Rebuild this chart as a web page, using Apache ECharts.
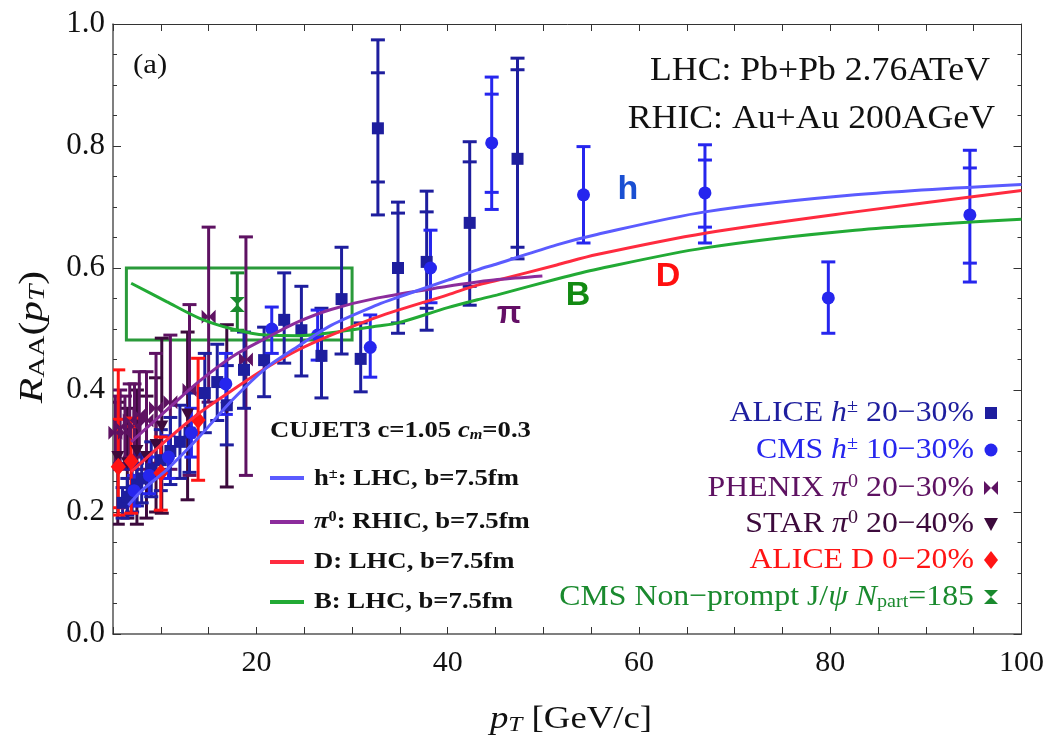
<!DOCTYPE html>
<html>
<head>
<meta charset="utf-8">
<script src="https://cdn.jsdelivr.net/npm/echarts@6/dist/echarts.min.js"></script>
<style>html,body{margin:0;background:#fff}#chart{width:1047px;height:736px}</style>
</head>
<body>
<div id="chart"></div>
<script>
// ---- data ----
// ALICE h+- 20-30% (squares)
var aliceH_pt  = [6.0,6.5,7.0,7.5,8.0,9.0,10.0,11.0,12.0,13.0,14.6,15.9,16.9,18.7,20.8,22.9,24.7,26.8,28.9,30.9,32.7,34.8,37.8,42.3,47.3];
var aliceH_raa = [0.215,0.225,0.235,0.245,0.255,0.27,0.285,0.30,0.315,0.33,0.395,0.413,0.375,0.433,0.449,0.515,0.498,0.456,0.549,0.451,0.829,0.600,0.610,0.674,0.779];
var aliceH_lo  = [0.19,0.195,0.20,0.21,0.215,0.225,0.235,0.245,0.255,0.265,0.33,0.35,0.31,0.37,0.389,0.444,0.423,0.387,0.459,0.397,0.687,0.493,0.498,0.539,0.615];
var aliceH_hi  = [0.24,0.255,0.27,0.28,0.295,0.315,0.335,0.355,0.375,0.395,0.46,0.475,0.44,0.495,0.503,0.592,0.57,0.534,0.634,0.51,0.974,0.708,0.726,0.807,0.944];
var aliceH_slo = [null,null,null,null,null,null,null,null,null,null,null,null,null,null,null,null,null,null,null,null,0.741,0.51,0.534,0.57,0.634];
var aliceH_shi = [null,null,null,null,null,null,null,null,null,null,null,null,null,null,null,null,null,null,null,null,0.92,0.69,0.692,0.774,0.925];

// CMS h+- 10-30% (circles)
var cmsH_pt  = [7.2,8.8,10.8,13.2,16.8,21.6,26.4,31.9,38.2,44.6,54.2,66.9,79.8,94.6];
var cmsH_raa = [0.235,0.26,0.29,0.33,0.41,0.50,0.49,0.47,0.60,0.805,0.72,0.723,0.551,0.687];
var cmsH_lo  = [0.21,0.23,0.255,0.29,0.36,0.46,0.449,0.421,0.543,0.696,0.641,0.641,0.493,0.577];
var cmsH_hi  = [0.26,0.29,0.325,0.37,0.46,0.536,0.531,0.523,0.662,0.913,0.799,0.802,0.61,0.793];
var cmsH_slo = [null,null,null,null,null,null,null,null,null,0.724,null,0.667,null,0.608];
var cmsH_shi = [null,null,null,null,null,null,null,null,null,0.885,null,0.777,null,0.764];

// PHENIX pi0 20-30% (bowties)
var phenix_pt  = [5.25,5.75,6.25,6.75,7.25,7.75,8.5,9.5,11.0,13.0,15.0,18.9];
var phenix_raa = [0.33,0.34,0.33,0.35,0.34,0.36,0.35,0.37,0.38,0.40,0.52,0.45];
var phenix_lo  = [0.27,0.28,0.27,0.29,0.27,0.29,0.27,0.28,0.27,0.26,0.38,0.26];
var phenix_hi  = [0.39,0.40,0.39,0.41,0.41,0.43,0.43,0.46,0.49,0.54,0.667,0.651];

// STAR pi0 20-40% (down triangles)
var star_pt  = [5.5,6.5,7.5,8.5,9.5,10.1,12.8,16.9];
var star_raa = [0.29,0.28,0.30,0.29,0.31,0.34,0.36,0.37];
var star_lo  = [0.18,0.19,0.18,0.19,0.20,0.198,0.22,0.241];
var star_hi  = [0.38,0.37,0.40,0.39,0.42,0.485,0.495,0.507];

// ALICE D 0-20% (diamonds)
var aliceD_pt  = [5.55,6.9,10.0,13.9];
var aliceD_raa = [0.274,0.283,0.264,0.351];
var aliceD_lo  = [0.195,0.198,0.203,0.252];
var aliceD_hi  = [0.433,0.354,0.323,0.452];
var aliceD_slo = [0.207,0.23,null,null];
var aliceD_shi = [0.352,0.34,null,null];

// CMS non-prompt J/psi (hourglass)
var jpsi_pt  = [18.0];
var jpsi_raa = [0.54];
var jpsi_lo  = [0.498];
var jpsi_hi  = [0.592];

// CUJET3 curves
var curveH_pt   = [6.6,8,10.6,14,17.5,21,24.4,27.8,32.7,34.8,40,43.1,45.2,51.4,55.6,66.9,82.6,100];
var curveH_raa  = [0.211,0.235,0.269,0.323,0.384,0.436,0.472,0.506,0.54,0.552,0.58,0.597,0.607,0.638,0.655,0.692,0.72,0.737];
var curvePi_pt  = [6.9,10.6,14,17.5,21,24.4,27.8,32.7,40,43.1,45.2,49.9];
var curvePi_raa = [0.315,0.367,0.414,0.455,0.485,0.512,0.532,0.551,0.57,0.577,0.581,0.587];
var curveD_pt   = [6.9,10.6,14,17.5,21,24.4,27.8,32.7,40,43.1,45.2,51.4,55.6,66.9,82.6,100];
var curveD_raa  = [0.266,0.318,0.362,0.4,0.436,0.466,0.49,0.52,0.556,0.572,0.58,0.605,0.622,0.657,0.692,0.727];
var curveB_pt   = [6.9,10.6,14,17.5,21,24.4,27.8,32.7,34.8,40,43.1,45.2,51.4,55.6,66.9,82.6,100];
var curveB_raa  = [0.575,0.545,0.518,0.5,0.49,0.489,0.494,0.505,0.51,0.535,0.548,0.556,0.582,0.598,0.633,0.662,0.68];

// green box
var boxPt  = [6.4, 30];
var boxRaa = [0.482, 0.6];

// ---- helpers ----
function pts(x, y) { return x.map(function (v, i) { return [v, y[i]]; }); }
function errRows(x, y, lo, hi, slo, shi) {
  return x.map(function (v, i) {
    return [v, y[i], lo[i], hi[i], slo ? slo[i] : null, shi ? shi[i] : null];
  });
}
function errSeries(rows, color) {
  return {
    type: 'custom', data: rows, clip: true, z: 3, encode: {x: 0, y: 1}, silent: true,
    renderItem: function (params, api) {
      var x = api.value(0);
      var a = api.coord([x, api.value(2)]), b = api.coord([x, api.value(3)]);
      var st = {stroke: color, lineWidth: 3};
      var kids = [
        {type: 'line', shape: {x1: a[0], y1: a[1], x2: b[0], y2: b[1]}, style: st},
        {type: 'line', shape: {x1: a[0] - 7, y1: a[1], x2: a[0] + 7, y2: a[1]}, style: st},
        {type: 'line', shape: {x1: b[0] - 7, y1: b[1], x2: b[0] + 7, y2: b[1]}, style: st}
      ];
      var s1 = api.value(4), s2 = api.value(5);
      if (!isNaN(s1) && s1 != null) {
        var c = api.coord([x, s1]), d = api.coord([x, s2]);
        kids.push({type: 'line', shape: {x1: c[0] - 7, y1: c[1], x2: c[0] + 7, y2: c[1]}, style: st});
        kids.push({type: 'line', shape: {x1: d[0] - 7, y1: d[1], x2: d[0] + 7, y2: d[1]}, style: st});
      }
      return {type: 'group', children: kids};
    }
  };
}
function markSeries(data, symbol, size, color) {
  return {type: 'scatter', data: data, symbol: symbol, symbolSize: size, itemStyle: {color: color, opacity: 1}, z: 4, silent: true};
}
function curve(data, color, extra) {
  var s = {type: 'line', data: data, smooth: 0.3, showSymbol: false,
           lineStyle: {color: color, width: 3}, z: 6, silent: true};
  for (var k in extra) s[k] = extra[k];
  return s;
}

var cAliceH = '#1e1e9e', cCmsH = '#2626ee', cPhenix = '#5e1262', cStar = '#3c0a3c', cAliceD = '#ff1414', cJpsi = '#1a8a2e';
var lnH = '#5b5bff', lnPi = '#8c2c9c', lnD = '#ff2b3f', lnB = '#22aa35';
var bowtie = 'path://M0,0 L10,10 L0,20 Z M20,0 L10,10 L20,20 Z';
var hourglass = 'path://M0,0 L20,0 L10,10 Z M0,20 L20,20 L10,10 Z';
var serif = 'Liberation Serif';

var chart = echarts.init(document.getElementById('chart'));

var axisCommon = {
  type: 'value', splitLine: {show: false},
  axisLine: {show: true, onZero: false, lineStyle: {color: '#555', width: 1.5}},
  axisTick: {show: true, inside: true, length: 7, lineStyle: {color: '#333', width: 1}}
};

function rowText(str, color, size, weight, subScale) {
  var s2 = Math.round(size * (subScale || 0.62));
  var w = weight || 'normal';
  return {
    text: str, fill: color, fontFamily: serif, fontSize: size, fontWeight: w,
    rich: {
      it: {fontStyle: 'italic', fontFamily: serif, fontSize: size, fill: color, fontWeight: w},
      sup: {fontFamily: serif, fontSize: s2, fill: color, verticalAlign: 'top', fontWeight: w},
      sub: {fontFamily: serif, fontSize: s2, fill: color, verticalAlign: 'bottom', fontWeight: w},
      subit: {fontFamily: serif, fontStyle: 'italic', fontSize: s2, fill: color, verticalAlign: 'bottom', fontWeight: w}
    }
  };
}
function txt(x, y, str, color, size, align, opts) {
  opts = opts || {};
  var st = rowText(str, color, size, opts.weight, opts.subScale);
  st.align = align; st.verticalAlign = 'middle';
  return {type: 'text', x: x, y: y, rotation: opts.rot || 0, scaleX: opts.sx || 1,
          style: st, z: 20, silent: true};
}
function legLine(y, color) {
  return {type: 'line', shape: {x1: 270, y1: y, x2: 304, y2: y}, style: {stroke: color, lineWidth: 4}, z: 20, silent: true};
}

var legendRows = [
  ['ALICE {it|h}{sup|±} 20−30%', cAliceH, 413],
  ['CMS {it|h}{sup|±} 10−30%', cCmsH, 450],
  ['PHENIX {it|π}{sup|0} 20−30%', cPhenix, 488],
  ['STAR {it|π}{sup|0} 20−40%', cStar, 524],
  ['ALICE D 0−20%', cAliceD, 560],
  ['CMS Non−prompt J/{it|ψ} {it|N}{sub|part}=185', cJpsi, 597]
];

var bold = {weight: 'bold', sx: 1.16};
var graphics = [
  txt(133, 66, '(a)', '#111', 28, 'left', {sx: 1.1}),
  txt(990, 71, 'LHC: Pb+Pb 2.76ATeV', '#111', 34, 'right', {sx: 1.05}),
  txt(995, 119, 'RHIC: Au+Au 200AGeV', '#111', 34, 'right', {sx: 1.05}),
  {type: 'text', x: 628, y: 190, style: {text: 'h', fill: '#1a4fd2', font: 'bold 34px "Liberation Sans"', align: 'center', verticalAlign: 'middle'}, z: 20},
  {type: 'text', x: 668, y: 277, style: {text: 'D', fill: '#ff0f0f', font: 'bold 34px "Liberation Sans"', align: 'center', verticalAlign: 'middle'}, z: 20},
  {type: 'text', x: 578, y: 296, style: {text: 'B', fill: '#128a12', font: 'bold 34px "Liberation Sans"', align: 'center', verticalAlign: 'middle'}, z: 20},
  {type: 'text', x: 509, y: 314, style: {text: 'π', fill: '#640f66', font: 'bold 32px "Liberation Sans"', align: 'center', verticalAlign: 'middle'}, z: 20},
  txt(270, 431, 'CUJET3 c=1.05 {it|c}{subit|m}=0.3', '#111', 23, 'left', bold),
  legLine(478, lnH), txt(314, 479, 'h{sup|±}: LHC, b=7.5fm', '#111', 23, 'left', bold),
  legLine(522, lnPi), txt(314, 522, '{it|π}{sup|0}: RHIC, b=7.5fm', '#111', 23, 'left', bold),
  legLine(562, lnD), txt(314, 562, 'D: LHC, b=7.5fm', '#111', 23, 'left', bold),
  legLine(602, lnB), txt(314, 602, 'B: LHC, b=7.5fm', '#111', 23, 'left', bold),
  txt(33, 337, '{it|R}{sub|AA}({it|p}{subit|T})', '#111', 34, 'center', {rot: Math.PI / 2, sx: 1.22, subScale: 0.7}),
  txt(571, 720, '{it|p}{subit|T} [GeV/c]', '#111', 32, 'center', {sx: 1.15, subScale: 0.7})
];
legendRows.forEach(function (r) { graphics.push(txt(974, r[2], r[0], r[1], 30, 'right', {sx: 1.06})); });
// legend markers
graphics.push({type: 'rect', shape: {x: 985, y: 407, width: 12, height: 12}, style: {fill: cAliceH}, z: 20});
graphics.push({type: 'circle', shape: {cx: 991, cy: 450, r: 6.5}, style: {fill: cCmsH}, z: 20});
graphics.push({type: 'polygon', shape: {points: [[984, 481], [991, 488], [984, 495]]}, style: {fill: cPhenix}, z: 20});
graphics.push({type: 'polygon', shape: {points: [[998, 481], [991, 488], [998, 495]]}, style: {fill: cPhenix}, z: 20});
graphics.push({type: 'polygon', shape: {points: [[984, 518], [998, 518], [991, 531]]}, style: {fill: cStar}, z: 20});
graphics.push({type: 'polygon', shape: {points: [[991, 551], [998, 560], [991, 569], [984, 560]]}, style: {fill: cAliceD}, z: 20});
graphics.push({type: 'polygon', shape: {points: [[984, 590], [998, 590], [991, 597]]}, style: {fill: cJpsi}, z: 20});
graphics.push({type: 'polygon', shape: {points: [[984, 604], [998, 604], [991, 597]]}, style: {fill: cJpsi}, z: 20});

var option = {
  backgroundColor: '#fff',
  animation: false,
  grid: {left: 113, right: 22, top: 24, bottom: 102},
  xAxis: [
    Object.assign({}, axisCommon, {
      min: 5, max: 100, interval: 5, position: 'bottom',
      axisLabel: {
        fontFamily: serif, fontSize: 30, color: '#111', margin: 14,
        formatter: function (v) { return v % 20 === 0 ? String(v) : ''; }
      }
    }),
    Object.assign({}, axisCommon, {
      min: 5, max: 100, interval: 5, position: 'top', axisLabel: {show: false},
      axisLine: {show: true, onZero: false, lineStyle: {color: '#333', width: 1}}
    })
  ],
  yAxis: [
    Object.assign({}, axisCommon, {
      min: 0, max: 1, interval: 0.2, position: 'left',
      minorTick: {show: true, splitNumber: 4, length: 4, lineStyle: {color: '#333'}},
      axisTick: {show: true, inside: true, length: 8, lineStyle: {color: '#333'}},
      axisLabel: {fontFamily: serif, fontSize: 31, color: '#111', margin: 8, formatter: function (v) { return v.toFixed(1); }}
    }),
    Object.assign({}, axisCommon, {
      min: 0, max: 1, interval: 0.2, position: 'right', axisLabel: {show: false},
      minorTick: {show: true, splitNumber: 4, length: 4, lineStyle: {color: '#333'}},
      axisTick: {show: true, inside: true, length: 8, lineStyle: {color: '#333'}},
      axisLine: {show: true, onZero: false, lineStyle: {color: '#333', width: 1}}
    })
  ],
  graphic: graphics,
  series: [
    errSeries(errRows(star_pt, star_raa, star_lo, star_hi), cStar),
    errSeries(errRows(phenix_pt, phenix_raa, phenix_lo, phenix_hi), cPhenix),
    errSeries(errRows(aliceH_pt, aliceH_raa, aliceH_lo, aliceH_hi, aliceH_slo, aliceH_shi), cAliceH),
    errSeries(errRows(cmsH_pt, cmsH_raa, cmsH_lo, cmsH_hi, cmsH_slo, cmsH_shi), cCmsH),
    errSeries(errRows(aliceD_pt, aliceD_raa, aliceD_lo, aliceD_hi, aliceD_slo, aliceD_shi), cAliceD),
    errSeries(errRows(jpsi_pt, jpsi_raa, jpsi_lo, jpsi_hi), cJpsi),
    markSeries(pts(star_pt, star_raa), 'triangle', [13, 12], cStar),
    markSeries(pts(phenix_pt, phenix_raa), bowtie, [14, 14], cPhenix),
    markSeries(pts(aliceH_pt, aliceH_raa), 'rect', 12, cAliceH),
    markSeries(pts(cmsH_pt, cmsH_raa), 'circle', 13, cCmsH),
    markSeries(pts(aliceD_pt, aliceD_raa), 'diamond', [15, 18], cAliceD),
    markSeries(pts(jpsi_pt, jpsi_raa), hourglass, [15, 15], cJpsi),
    curve(pts(curveB_pt, curveB_raa), lnB, {
      markArea: {
        silent: true,
        itemStyle: {color: 'rgba(0,0,0,0)', borderColor: '#2a9a3a', borderWidth: 3},
        data: [[{coord: [boxPt[0], boxRaa[0]]}, {coord: [boxPt[1], boxRaa[1]]}]]
      }
    }),
    curve(pts(curveD_pt, curveD_raa), lnD),
    curve(pts(curvePi_pt, curvePi_raa), lnPi),
    curve(pts(curveH_pt, curveH_raa), lnH)
  ]
};
// STAR triangles point down
option.series[6].symbolRotate = 180;
chart.setOption(option);
</script>
</body>
</html>
